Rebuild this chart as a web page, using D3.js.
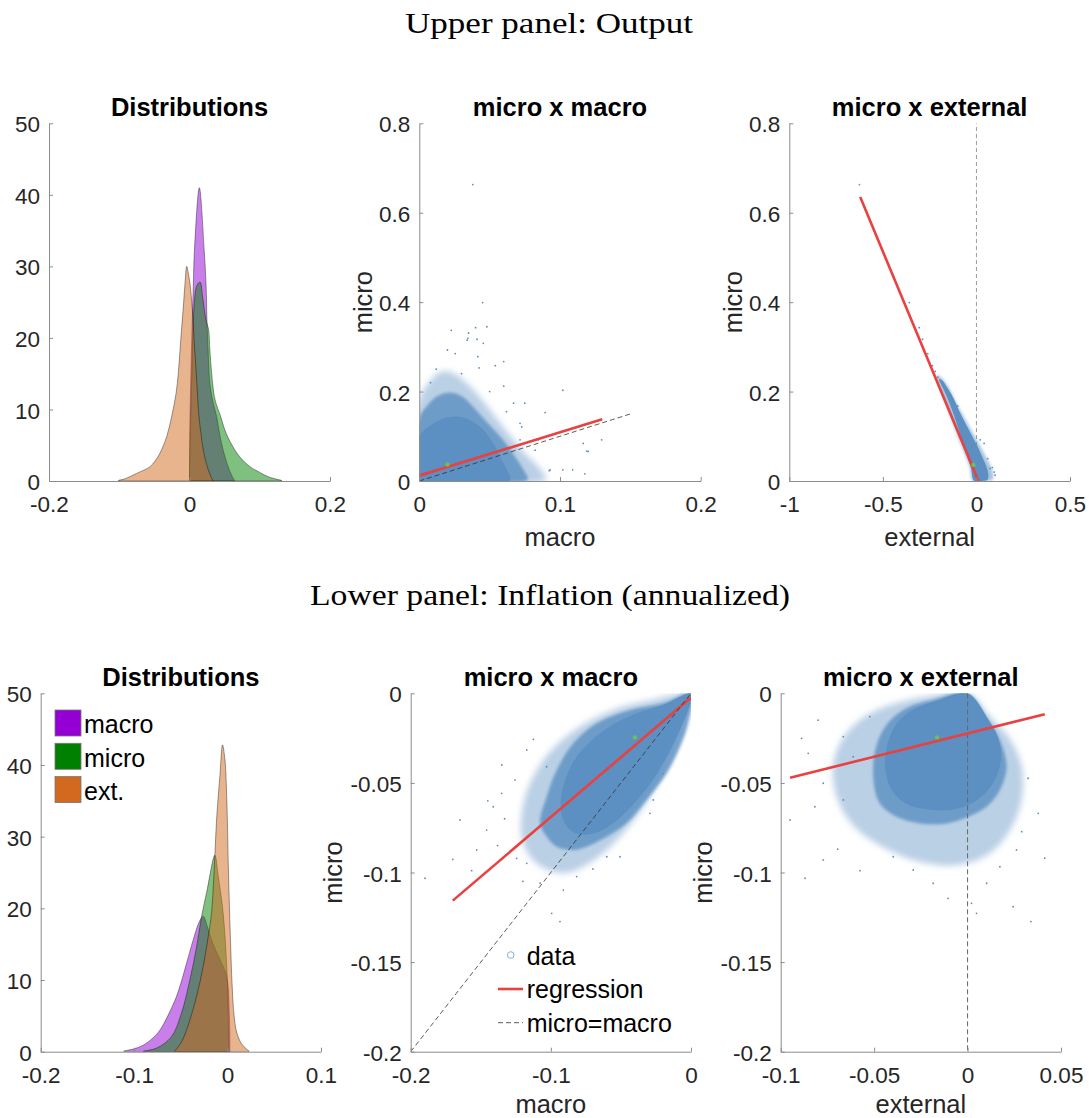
<!DOCTYPE html>
<html><head><meta charset="utf-8">
<script src="https://cdn.jsdelivr.net/npm/d3@7"></script>
<style>body{margin:0;background:#fff}svg{display:block}</style>
</head><body><svg id="c" width="1089" height="1118"></svg>
<script>
// ---------------- DATA ----------------
const seriesNames = ["macro", "micro", "ext."];
const seriesColors = ["#9400D3", "#008000", "#D2691E"];

// Upper panel (Output) : kernel densities  [value, density]
const outputMacroDensity = [[0,0],[0.0005,8],[0.002,15],[0.0035,21],[0.0055,27.6],[0.0069,32],[0.014,41],[0.0211,32],[0.0235,27.6],[0.025,22],[0.0265,18.3],[0.029,13.6],[0.0335,11],[0.0387,9.0],[0.043,6.5],[0.048,4.3],[0.055,2.0],[0.061,0.6],[0.064,0.1]];
const outputMicroDensity = [[0,0],[0.0007,5],[0.003,13.6],[0.0064,24.3],[0.0105,27.3],[0.015,27.8],[0.019,25.5],[0.0235,22.5],[0.0273,21.1],[0.029,18.3],[0.033,13.6],[0.0365,11.3],[0.0444,9.0],[0.052,6.7],[0.0648,4.3],[0.075,3.0],[0.086,2.0],[0.1,1.2],[0.112,0.6],[0.122,0.3],[0.131,0.1]];
const outputExtDensity = [[-0.101,0.1],[-0.092,0.3],[-0.08,0.84],[-0.07,1.3],[-0.0562,2.0],[-0.049,2.8],[-0.042,3.9],[-0.0325,6.2],[-0.0254,9.0],[-0.0192,12.2],[-0.016,15.0],[-0.0135,18.3],[-0.0111,21.5],[-0.0088,24.3],[-0.0064,27.6],[-0.004,30.0],[-0.002,29.2],[0.0007,27.6],[0.004,24],[0.007,19],[0.0105,13.6],[0.0135,9.0],[0.0165,6.5],[0.0197,4.3],[0.0253,2.0],[0.0306,0.6],[0.033,0.1]];

// Lower panel (Inflation) : kernel densities
const inflationMacroDensity = [[-0.111,0.1],[-0.1,0.4],[-0.0904,0.9],[-0.08,1.9],[-0.0725,3.0],[-0.064,5.0],[-0.0547,7.7],[-0.049,10],[-0.044,12.3],[-0.0368,15.6],[-0.0304,18.1],[-0.026,18.9],[-0.022,17.6],[-0.016,15.2],[-0.008,12.8],[-0.001,10.5],[0.002,5],[0.0025,0]];
const inflationMicroDensity = [[-0.09,0.1],[-0.076,0.5],[-0.06,2.1],[-0.0493,5.4],[-0.0404,10.0],[-0.0332,14.6],[-0.0279,18.8],[-0.022,22.5],[-0.0136,27.4],[-0.01,24.5],[-0.0047,19.3],[-0.0004,10.5],[0.001,3],[0.0015,0]];
const inflationExtDensity = [[-0.0565,0.1],[-0.05,1.2],[-0.044,3.0],[-0.0332,7.7],[-0.0261,11.9],[-0.0208,16.0],[-0.0172,19.3],[-0.0143,25.5],[-0.0118,32.3],[-0.0082,38.5],[-0.0054,42.8],[-0.003,41],[-0.001,36],[0.001,25],[0.003,16],[0.005,9],[0.007,5],[0.01,2.6],[0.015,1.1],[0.02,0.4],[0.023,0.1]];

// Scatter clouds: density contours of the dense point clouds  [x, y]
const outMacroCloudHalo = [[0,0],[0,0.18],[0.008,0.225],[0.016,0.245],[0.025,0.24],[0.035,0.215],[0.045,0.18],[0.055,0.14],[0.065,0.1],[0.075,0.062],[0.085,0.03],[0.09,0.003],[0.04,0]];
const outMacroCloudMid = [[0,0],[0,0.14],[0.006,0.17],[0.013,0.19],[0.022,0.198],[0.031,0.188],[0.04,0.16],[0.05,0.125],[0.06,0.09],[0.068,0.055],[0.074,0.025],[0.077,0.003],[0.035,0]];
const outMacroCloudCore = [[0,0],[0,0.1],[0.004,0.115],[0.0101,0.129],[0.0172,0.14],[0.0267,0.144],[0.0362,0.136],[0.0456,0.114],[0.0527,0.084],[0.0574,0.054],[0.0622,0.025],[0.0645,0.002],[0.03,0]];
const outMacroOutliers = [[0.038,0.663],[0.045,0.399],[0.048,0.345],[0.040,0.343],[0.0227,0.337],[0.035,0.331],[0.0345,0.319],[0.041,0.317],[0.034,0.315],[0.0455,0.308],[0.020,0.293],[0.0255,0.285],[0.0416,0.278],[0.060,0.267],[0.054,0.258],[0.0425,0.253],[0.06,0.212],[0.102,0.203],[0.067,0.174],[0.075,0.174],[0.0894,0.153],[0.0716,0.129],[0.0728,0.121],[0.1296,0.092],[0.0716,0.092],[0.0846,0.092],[0.1165,0.084],[0.0823,0.069],[0.119,0.067],[0.12,0.066],[0.093,0.025],[0.102,0.025],[0.109,0.025],[0.0924,0.023],[0.1177,0.016],[0.03,0.24],[0.012,0.25],[0.008,0.22],[0.05,0.2],[0.062,0.155]];

const outExtCloudHalo = [[-0.215,0.236],[-0.19,0.232],[-0.15,0.21],[-0.11,0.176],[-0.06,0.138],[-0.02,0.108],[0.02,0.078],[0.055,0.05],[0.08,0.03],[0.09,0.012],[0.085,0.002],[0.03,0],[-0.02,0],[-0.035,0.03],[-0.06,0.058],[-0.1,0.1],[-0.14,0.145],[-0.18,0.19],[-0.21,0.225]];
const outExtCloudCore = [[-0.2,0.228],[-0.185,0.226],[-0.15,0.205],[-0.12,0.183],[-0.09,0.155],[-0.05,0.122],[-0.02,0.098],[0.01,0.074],[0.035,0.05],[0.055,0.03],[0.064,0.012],[0.058,0.002],[0.03,0],[-0.012,0],[-0.03,0.03],[-0.05,0.055],[-0.08,0.095],[-0.11,0.135],[-0.14,0.17],[-0.17,0.2]];
const outExtOutliers = [[-0.625,0.663],[-0.359,0.399],[-0.306,0.343],[-0.288,0.317],[-0.26,0.285],[-0.235,0.258],[-0.22,0.245],[-0.206,0.232],[0.041,0.084],[0.06,0.05],[0.073,0.028],[0.085,0.03],[0.1,0.013],[-0.1,0.168],[0.02,0.092],[0.095,0.02]];

const inflMacroCloudHalo = [[0,0],[-0.03,-0.004],[-0.055,-0.009],[-0.08,-0.019],[-0.1,-0.032],[-0.113,-0.047],[-0.12,-0.063],[-0.121,-0.08],[-0.114,-0.092],[-0.101,-0.099],[-0.087,-0.1],[-0.073,-0.095],[-0.058,-0.086],[-0.043,-0.073],[-0.029,-0.057],[-0.016,-0.038],[-0.006,-0.018],[0,-0.003]];
const inflMacroCloudMid = [[0,0],[-0.02,-0.0056],[-0.0435,-0.0093],[-0.0673,-0.0167],[-0.084,-0.0279],[-0.0958,-0.0428],[-0.103,-0.0577],[-0.1077,-0.0725],[-0.103,-0.0799],[-0.0958,-0.0856],[-0.084,-0.0874],[-0.0745,-0.0856],[-0.0601,-0.08],[-0.0459,-0.0725],[-0.0316,-0.0595],[-0.0173,-0.0446],[-0.0078,-0.0298],[-0.002,-0.0167]];
const inflMacroCloudCore = [[0,0],[-0.02,-0.0065],[-0.04,-0.0115],[-0.058,-0.0185],[-0.072,-0.027],[-0.083,-0.037],[-0.09,-0.049],[-0.093,-0.061],[-0.091,-0.071],[-0.085,-0.077],[-0.076,-0.079],[-0.065,-0.077],[-0.053,-0.071],[-0.04,-0.061],[-0.027,-0.048],[-0.015,-0.032],[-0.006,-0.017],[0,-0.004]];
const inflMacroOutliers = [[-0.17,-0.0927],[-0.1898,-0.1032],[-0.1565,-0.099],[-0.1648,-0.0707],[-0.1529,-0.0874],[-0.0935,-0.1274],[-0.0994,-0.1228],[-0.1125,-0.0257],[-0.1172,-0.0316],[-0.1351,-0.0558],[-0.1411,-0.0633],[-0.1458,-0.0763],[-0.1244,-0.0921],[-0.1172,-0.0949],[-0.1077,-0.106],[-0.0911,-0.1098],[-0.0816,-0.1023],[-0.0601,-0.0912],[-0.0507,-0.0912],[-0.0293,-0.067],[-0.0269,-0.0595],[-0.103,-0.041],[-0.1256,-0.0484],[-0.133,-0.07],[-0.138,-0.085],[-0.12,-0.105],[-0.07,-0.098],[-0.02,-0.045],[-0.135,-0.04],[-0.145,-0.06]];

const inflExtCloudHalo = [[0,0],[-0.02,-0.0015],[-0.04,-0.006],[-0.055,-0.013],[-0.066,-0.024],[-0.072,-0.04],[-0.07,-0.058],[-0.061,-0.074],[-0.045,-0.086],[-0.026,-0.094],[-0.006,-0.096],[0.011,-0.09],[0.023,-0.076],[0.029,-0.059],[0.029,-0.041],[0.023,-0.026],[0.012,-0.013]];
const inflExtCloudMid = [[0,0],[-0.018,-0.0035],[-0.033,-0.0085],[-0.043,-0.017],[-0.049,-0.03],[-0.0505,-0.0465],[-0.047,-0.0614],[-0.038,-0.0689],[-0.0255,-0.0726],[-0.0112,-0.0726],[0,-0.069],[0.0102,-0.0633],[0.0173,-0.054],[0.0209,-0.041],[0.0173,-0.026],[0.011,-0.0149]];
const inflExtCloudCore = [[0,0],[-0.016,-0.004],[-0.029,-0.009],[-0.038,-0.017],[-0.043,-0.029],[-0.044,-0.043],[-0.04,-0.055],[-0.032,-0.062],[-0.02,-0.065],[-0.008,-0.065],[0.003,-0.061],[0.011,-0.054],[0.016,-0.045],[0.018,-0.034],[0.016,-0.024],[0.011,-0.0145]];
const inflExtOutliers = [[-0.0888,-0.0251],[-0.0853,-0.0335],[-0.095,-0.0707],[-0.087,-0.1032],[-0.0772,-0.093],[-0.0695,-0.087],[-0.0576,-0.099],[-0.0104,-0.1144],[0.0021,-0.1172],[0.0048,-0.1228],[0.0244,-0.1191],[0.0339,-0.1274],[0.0413,-0.092],[0.0378,-0.067],[0.0324,-0.0474],[0.029,-0.0772],[-0.0772,-0.0502],[-0.0665,-0.0595],[-0.0817,-0.0633],[-0.0719,-0.041],[-0.0612,-0.0354],[-0.0523,-0.013],[-0.0665,-0.0242],[-0.0184,-0.106],[-0.0291,-0.0986],[-0.0398,-0.0912],[0.0102,-0.106],[0.0173,-0.0968],[0.0262,-0.0874],[-0.08,-0.015]];

// Regression lines, identity lines, sample means
const outMacroFit = [[0,0.012],[0.13,0.138]];
const outMacroIdentity = [[0,0],[0.15,0.15]];
const outMacroMean = [0.020,0.037];
const outExtFit = [[-0.621,0.635],[0.0107,0]];
const outExtMean = [-0.016,0.036];
const inflMacroFit = [[-0.17,-0.1157],[0,-0.0024]];
const inflMacroIdentity = [[-0.2,-0.2],[0,0]];
const inflMacroMean = [-0.04,-0.0246];
const inflExtFit = [[-0.095,-0.0471],[0.0413,-0.0117]];
const inflExtMean = [-0.0163,-0.0246];

// Ticks
const densityTicks = [0,10,20,30,40,50];
const outDistXTicks = [-0.2,0,0.2];
const outMacroXTicks = [0,0.1,0.2];
const outYTicks = [0,0.2,0.4,0.6,0.8];
const outExtXTicks = [-1,-0.5,0,0.5];
const inflDistXTicks = [-0.2,-0.1,0,0.1];
const inflMacroXTicks = [-0.2,-0.1,0];
const inflYTicks = [-0.2,-0.15,-0.1,-0.05,0];
const inflExtXTicks = [-0.1,-0.05,0,0.05];

const legendScatter = ["data","regression","micro=macro"];

// ---------------- DRAWING ----------------
const SANS = '"Liberation Sans", Arial, Helvetica, sans-serif';
const SERIF = '"Liberation Serif", "DejaVu Serif", serif';
const CLOUD = "#5b8fc2";
const RED = "#e8413f";
const AXIS = "#8c8c8c";
const TXT = "#262626";

const svg = d3.select("#c");
svg.append("rect").attr("width",1089).attr("height",1118).attr("fill","#fff");
const defs = svg.append("defs");
[["blurA",3],["blurB",1.5],["blurC",0.7]].forEach(([id,s])=>{
  defs.append("filter").attr("id",id).attr("x","-30%").attr("y","-30%").attr("width","160%").attr("height","160%")
    .append("feGaussianBlur").attr("stdDeviation",s);
});

function panel(cfg){
  const x = d3.scaleLinear().domain(cfg.xDomain).range([cfg.left,cfg.right]);
  const y = d3.scaleLinear().domain(cfg.yDomain).range([cfg.bottom,cfg.top]);
  const g = svg.append("g");
  defs.append("clipPath").attr("id","clip-"+cfg.id).append("rect")
    .attr("x",cfg.left).attr("y",cfg.top).attr("width",cfg.right-cfg.left).attr("height",cfg.bottom-cfg.top);
  const plot = g.append("g").attr("clip-path",`url(#clip-${cfg.id})`);
  return {cfg,x,y,g,plot};
}

function axes(p){
  const c = p.cfg;
  const ax = d3.axisBottom(p.x).tickValues(c.xTicks).tickFormat(d=>String(d))
    .tickSizeInner(-4).tickSizeOuter(0).tickPadding(15);
  const ay = d3.axisLeft(p.y).tickValues(c.yTicks).tickFormat(d=>String(d))
    .tickSizeInner(-4).tickSizeOuter(0).tickPadding(9);
  const gx = p.g.append("g").attr("transform",`translate(0,${c.bottom})`).call(ax);
  const gy = p.g.append("g").attr("transform",`translate(${c.left},0)`).call(ay);
  [gx,gy].forEach(a=>{
    a.attr("font-family",SANS).attr("font-size",22.5);
    a.selectAll("path.domain").attr("stroke",AXIS).attr("stroke-width",1);
    a.selectAll(".tick line").attr("stroke",AXIS).attr("stroke-width",1);
    a.selectAll(".tick text").attr("fill",TXT);
  });
  gy.selectAll(".tick text").attr("dy","0.38em");
  p.g.append("text").attr("x",(c.left+c.right)/2).attr("y",c.top-7.6)
    .attr("text-anchor","middle").attr("font-family",SANS).attr("font-weight","bold")
    .attr("font-size",25.5).attr("fill","#000").text(c.title);
  if(c.xLabel){
    p.g.append("text").attr("x",(c.left+c.right)/2).attr("y",c.bottom+c.xLabelOff)
      .attr("text-anchor","middle").attr("font-family",SANS).attr("font-size",25.5)
      .attr("fill",TXT).text(c.xLabel);
  }
  if(c.yLabel){
    const yy=(c.top+c.bottom)/2, xx=c.left-c.yLabelOff;
    p.g.append("text").attr("transform",`translate(${xx},${yy}) rotate(-90)`)
      .attr("text-anchor","middle").attr("font-family",SANS).attr("font-size",25.5)
      .attr("fill",TXT).text(c.yLabel);
  }
}

function densities(p, list){
  const area = d3.area().x(d=>p.x(d[0])).y0(p.y(0)).y1(d=>p.y(d[1])).curve(d3.curveCatmullRom.alpha(0.5));
  list.forEach((s,i)=>{
    p.plot.append("path").attr("d",area(s)).attr("fill",seriesColors[i]).attr("fill-opacity",0.5)
      .attr("stroke","#000").attr("stroke-opacity",0.55).attr("stroke-width",0.7);
  });
}

function cloud(p, layers, outliers){
  const line = d3.line().x(d=>p.x(d[0])).y(d=>p.y(d[1])).curve(d3.curveCatmullRomClosed.alpha(0.5));
  const st = layers.length===3
    ? [[0.42,"blurA"],[0.8,"blurB"],[1,"blurC"]]
    : [[0.55,"blurB"],[1,"blurC"]];
  p.plot.selectAll(null).data(outliers).join("circle")
    .attr("cx",d=>p.x(d[0])).attr("cy",d=>p.y(d[1])).attr("r",0.9).attr("fill",CLOUD);
  layers.forEach((poly,i)=>{
    p.plot.append("path").attr("d",line(poly)).attr("fill",CLOUD).attr("fill-opacity",st[i][0])
      .attr("filter",`url(#${st[i][1]})`);
  });
}

function seg(p, pts, stroke, w, dash){
  const l = d3.line().x(d=>p.x(d[0])).y(d=>p.y(d[1]));
  const e = p.plot.append("path").attr("d",l(pts)).attr("fill","none").attr("stroke",stroke).attr("stroke-width",w);
  if(dash) e.attr("stroke-dasharray",dash);
  return e;
}
function meanDot(p, m){
  p.plot.append("circle").attr("cx",p.x(m[0])).attr("cy",p.y(m[1])).attr("r",2.2).attr("fill","#6cc24f");
}

// ----- Super titles -----
svg.append("text").attr("x",549).attr("y",33).attr("text-anchor","middle")
  .attr("font-family",SERIF).attr("font-size",29).attr("fill","#000")
  .attr("textLength",288).attr("lengthAdjust","spacingAndGlyphs").text("Upper panel: Output");
svg.append("text").attr("x",550).attr("y",605).attr("text-anchor","middle")
  .attr("font-family",SERIF).attr("font-size",29).attr("fill","#000")
  .attr("textLength",480).attr("lengthAdjust","spacingAndGlyphs").text("Lower panel: Inflation (annualized)");

// ----- Upper row -----
const p1 = panel({id:"p1",left:49,right:330,top:123.3,bottom:481,xDomain:[-0.2,0.2],yDomain:[0,50],
  xTicks:outDistXTicks,yTicks:densityTicks,title:"Distributions"});
densities(p1,[outputMacroDensity,outputMicroDensity,outputExtDensity]);
axes(p1);

const p2 = panel({id:"p2",left:419.3,right:700.7,top:123.3,bottom:481,xDomain:[0,0.2],yDomain:[0,0.8],
  xTicks:outMacroXTicks,yTicks:outYTicks,title:"micro x macro",xLabel:"macro",xLabelOff:64.5,yLabel:"micro",yLabelOff:47.8});
cloud(p2,[outMacroCloudHalo,outMacroCloudMid,outMacroCloudCore],outMacroOutliers);
seg(p2,outMacroFit,RED,2.6);
seg(p2,outMacroIdentity,"#333",0.8,"5,3");
meanDot(p2,outMacroMean);
axes(p2);

const p3 = panel({id:"p3",left:789.3,right:1070,top:123.3,bottom:481,xDomain:[-1,0.5],yDomain:[0,0.8],
  xTicks:outExtXTicks,yTicks:outYTicks,title:"micro x external",xLabel:"external",xLabelOff:64.5,yLabel:"micro",yLabelOff:47.6});
seg(p3,[[0,0],[0,0.8]],"#9a9a9a",1,"4,3");
cloud(p3,[outExtCloudHalo,outExtCloudCore],outExtOutliers);
seg(p3,outExtFit,RED,2.6);
meanDot(p3,outExtMean);
axes(p3);

// ----- Lower row -----
const p4 = panel({id:"p4",left:40.7,right:321,top:693.3,bottom:1051.7,xDomain:[-0.2,0.1],yDomain:[0,50],
  xTicks:inflDistXTicks,yTicks:densityTicks,title:"Distributions"});
densities(p4,[inflationMacroDensity,inflationMicroDensity,inflationExtDensity]);
axes(p4);
// legend (distributions)
const lg1 = p4.g.append("g");
seriesNames.forEach((n,i)=>{
  lg1.append("rect").attr("x",55).attr("y",710+i*33.3).attr("width",26).attr("height",26)
    .attr("fill",seriesColors[i]).attr("stroke","#777").attr("stroke-width",0.8);
  lg1.append("text").attr("x",84).attr("y",733.3+i*33.3).attr("font-family",SANS).attr("font-size",25)
    .attr("fill","#000").text(n);
});

const p5 = panel({id:"p5",left:410.7,right:691,top:693.3,bottom:1051.7,xDomain:[-0.2,0],yDomain:[-0.2,0],
  xTicks:inflMacroXTicks,yTicks:inflYTicks,title:"micro x macro",xLabel:"macro",xLabelOff:61.5,yLabel:"micro",yLabelOff:69});
cloud(p5,[inflMacroCloudHalo,inflMacroCloudMid,inflMacroCloudCore],inflMacroOutliers);
seg(p5,inflMacroFit,RED,2.6);
seg(p5,inflMacroIdentity,"#333",0.8,"5,3");
meanDot(p5,inflMacroMean);
axes(p5);
// legend (scatter)
const lg2 = p5.g.append("g");
lg2.append("circle").attr("cx",510.7).attr("cy",955).attr("r",3.3).attr("fill","none").attr("stroke","#7fb0d8").attr("stroke-width",1);
lg2.append("line").attr("x1",498).attr("x2",523).attr("y1",989).attr("y2",989).attr("stroke",RED).attr("stroke-width",2.6);
lg2.append("line").attr("x1",498).attr("x2",523).attr("y1",1022.7).attr("y2",1022.7).attr("stroke","#333").attr("stroke-width",0.8).attr("stroke-dasharray","5,3");
legendScatter.forEach((t,i)=>{
  lg2.append("text").attr("x",526.7).attr("y",965+i*33.3).attr("font-family",SANS).attr("font-size",25)
    .attr("fill","#000").text(t);
});

const p6 = panel({id:"p6",left:780.7,right:1061,top:693.3,bottom:1051.7,xDomain:[-0.1,0.05],yDomain:[-0.2,0],
  xTicks:inflExtXTicks,yTicks:inflYTicks,title:"micro x external",xLabel:"external",xLabelOff:61.5,yLabel:"micro",yLabelOff:69});
cloud(p6,[inflExtCloudHalo,inflExtCloudMid,inflExtCloudCore],inflExtOutliers);
seg(p6,[[0,0],[0,-0.2]],"#666",1,"5,3");
seg(p6,inflExtFit,RED,2.6);
meanDot(p6,inflExtMean);
axes(p6);
</script></body></html>
